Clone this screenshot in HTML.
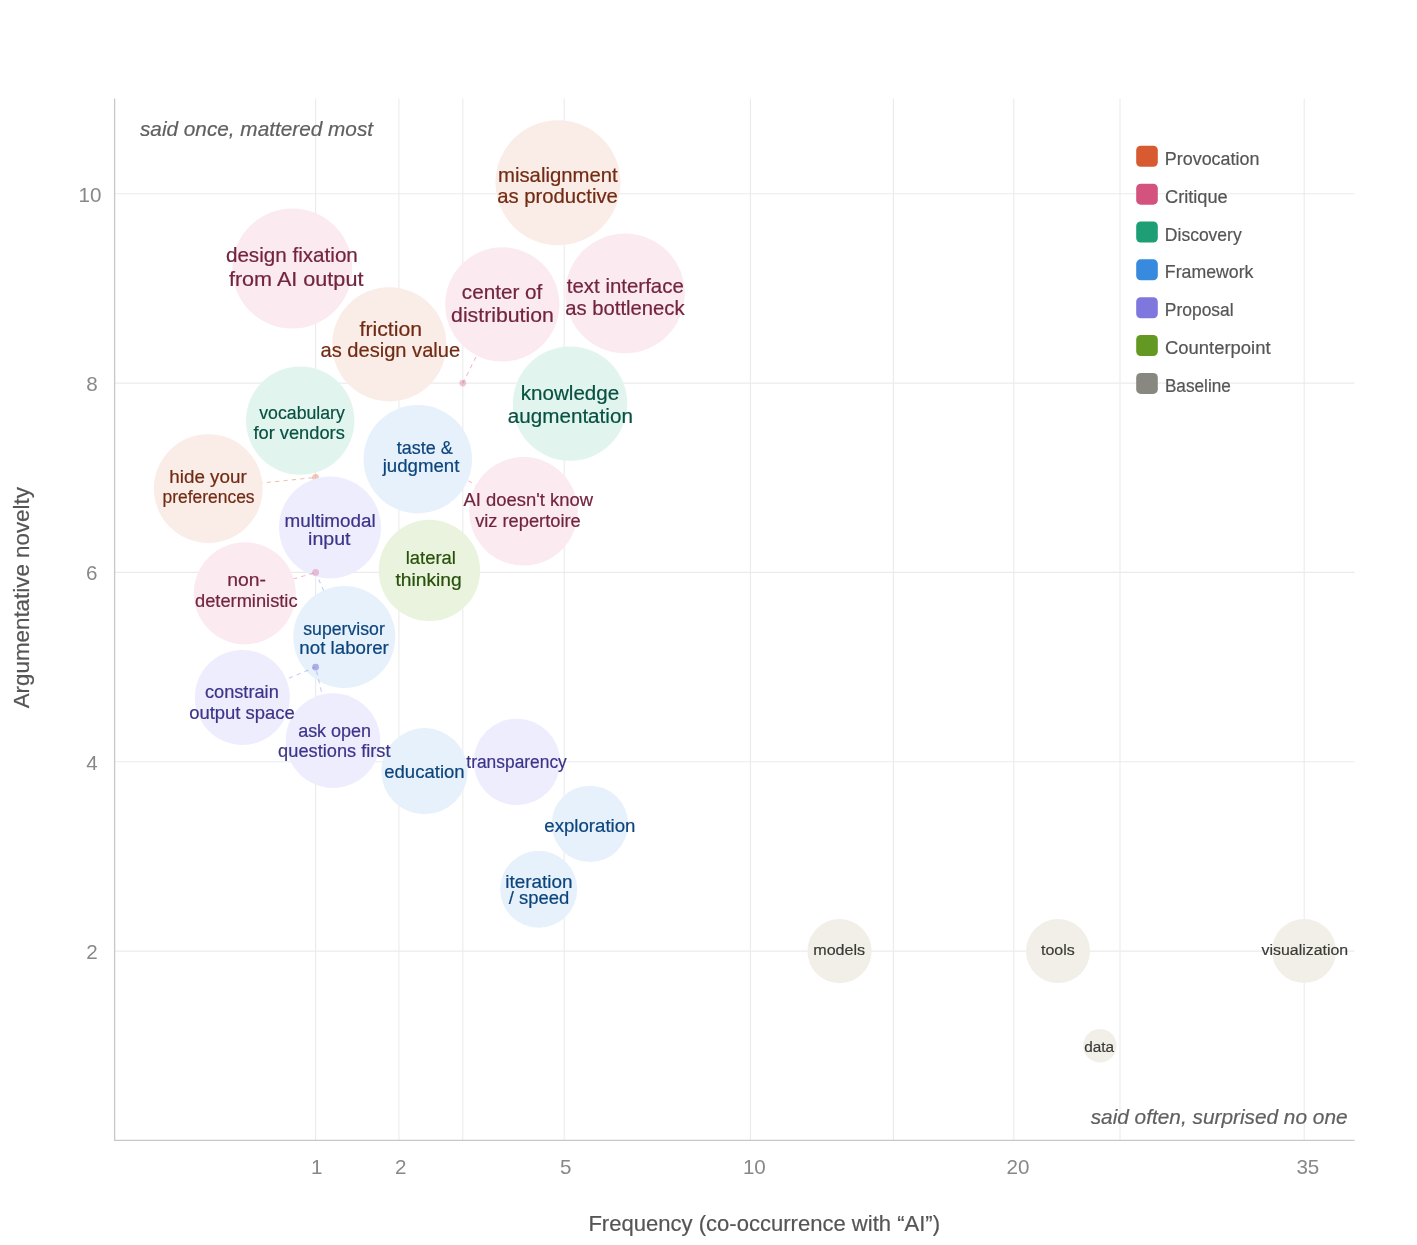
<!DOCTYPE html>
<html><head><meta charset="utf-8"><title>Chart</title>
<style>html,body{margin:0;padding:0;background:#fff;}svg{display:block;will-change:transform;}text{font-family:"Liberation Sans",sans-serif;}</style>
</head><body>
<svg width="1417" height="1245" viewBox="0 0 1417 1245" font-family="Liberation Sans, sans-serif">
<rect width="1417" height="1245" fill="#ffffff"/>
<path d="M315.6 98.5V1140M398.9 98.5V1140M462.8 98.5V1140M564.2 98.5V1140M750.4 98.5V1140M893.4 98.5V1140M1013.8 98.5V1140M1120.0 98.5V1140M1304.2 98.5V1140M114.5 951.1H1354.5M114.5 761.8H1354.5M114.5 572.4H1354.5M114.5 383.1H1354.5M114.5 193.8H1354.5" stroke="#ebebeb" stroke-width="1.1" fill="none"/>
<path d="M114.6 98.5V1140.4H1354.5" stroke="#c8c8c8" stroke-width="1.3" fill="none"/>
<line x1="523.5" y1="511.3" x2="462.8154174021012" y2="477.7800000000001" stroke="#D4537E" stroke-opacity="0.38" stroke-width="1.1" stroke-dasharray="4.2 4.2"/>
<circle cx="462.8154174021012" cy="477.7800000000001" r="3.4" fill="#D4537E" fill-opacity="0.33"/>
<circle cx="523.5" cy="511.3" r="54.3" fill="#FBEAF0"/>
<line x1="344.3" y1="637.0" x2="315.6" y2="572.44" stroke="#378ADD" stroke-opacity="0.38" stroke-width="1.1" stroke-dasharray="4.2 4.2"/>
<circle cx="344.3" cy="637.0" r="51.0" fill="#E6F1FB"/>
<circle cx="558.0" cy="182.7" r="62.5" fill="#FAECE7"/>
<circle cx="292.3" cy="268.5" r="60.0" fill="#FBEAF0"/>
<circle cx="625.0" cy="293.4" r="59.8" fill="#FBEAF0"/>
<line x1="502.3" y1="304.4" x2="462.8154174021012" y2="383.1200000000001" stroke="#D4537E" stroke-opacity="0.38" stroke-width="1.1" stroke-dasharray="4.2 4.2"/>
<circle cx="462.8154174021012" cy="383.1200000000001" r="3.4" fill="#D4537E" fill-opacity="0.33"/>
<circle cx="502.3" cy="304.4" r="57.1" fill="#FBEAF0"/>
<circle cx="389.3" cy="344.3" r="57.1" fill="#FAECE7"/>
<circle cx="570.1" cy="403.6" r="57.2" fill="#E1F5EE"/>
<circle cx="300.2" cy="420.6" r="54.2" fill="#E1F5EE"/>
<circle cx="417.8" cy="459.2" r="54.2" fill="#E6F1FB"/>
<line x1="208.3" y1="488.6" x2="315.6" y2="477.3800000000001" stroke="#D85A30" stroke-opacity="0.38" stroke-width="1.1" stroke-dasharray="4.2 4.2"/>
<circle cx="315.6" cy="477.3800000000001" r="3.4" fill="#D85A30" fill-opacity="0.33"/>
<circle cx="208.3" cy="488.6" r="54.4" fill="#FAECE7"/>
<circle cx="330.0" cy="527.5" r="51.0" fill="#EEEDFE"/>
<circle cx="429.4" cy="570.5" r="50.7" fill="#EAF3DE"/>
<line x1="244.8" y1="593.3" x2="315.6" y2="572.44" stroke="#D4537E" stroke-opacity="0.38" stroke-width="1.1" stroke-dasharray="4.2 4.2"/>
<circle cx="315.6" cy="572.44" r="3.4" fill="#D4537E" fill-opacity="0.33"/>
<circle cx="244.8" cy="593.3" r="51.0" fill="#FBEAF0"/>
<line x1="242.3" y1="697.4" x2="315.6" y2="667.1000000000001" stroke="#7F77DD" stroke-opacity="0.38" stroke-width="1.1" stroke-dasharray="4.2 4.2"/>
<circle cx="315.6" cy="667.1000000000001" r="3.4" fill="#7F77DD" fill-opacity="0.33"/>
<circle cx="242.3" cy="697.4" r="47.5" fill="#EEEDFE"/>
<line x1="333.0" y1="740.6" x2="315.6" y2="667.1000000000001" stroke="#7F77DD" stroke-opacity="0.38" stroke-width="1.1" stroke-dasharray="4.2 4.2"/>
<circle cx="315.6" cy="667.1000000000001" r="3.4" fill="#7F77DD" fill-opacity="0.33"/>
<circle cx="333.0" cy="740.6" r="47.3" fill="#EEEDFE"/>
<circle cx="424.5" cy="771.2" r="43.1" fill="#E6F1FB"/>
<circle cx="516.9" cy="761.9" r="43.2" fill="#EEEDFE"/>
<circle cx="589.9" cy="823.9" r="38.2" fill="#E6F1FB"/>
<circle cx="538.7" cy="889.2" r="38.5" fill="#E6F1FB"/>
<circle cx="839.5" cy="951.1" r="32.1" fill="#F1EFE8"/>
<circle cx="1058.0" cy="951.1" r="32.0" fill="#F1EFE8"/>
<circle cx="1304.0" cy="951.0" r="32.0" fill="#F1EFE8"/>
<circle cx="1099.9" cy="1045.8" r="16.7" fill="#F1EFE8"/>
<text transform="translate(463.55,505.80) scale(1.0353,1)" font-size="17.82" fill="#72243E" stroke="#72243E" stroke-width="0.2">AI doesn't know</text>
<text transform="translate(475.15,526.70) scale(1.0255,1)" font-size="17.82" fill="#72243E" stroke="#72243E" stroke-width="0.2">viz repertoire</text>
<text transform="translate(303.21,634.80) scale(0.9922,1)" font-size="17.82" fill="#0C447C" stroke="#0C447C" stroke-width="0.2">supervisor</text>
<text transform="translate(299.34,653.60) scale(1.0513,1)" font-size="17.82" fill="#0C447C" stroke="#0C447C" stroke-width="0.2">not laborer</text>
<text transform="translate(498.03,181.70) scale(1.0266,1)" font-size="19.80" fill="#712B13" stroke="#712B13" stroke-width="0.2">misalignment</text>
<text transform="translate(497.14,203.40) scale(1.0252,1)" font-size="19.80" fill="#712B13" stroke="#712B13" stroke-width="0.2">as productive</text>
<text transform="translate(225.92,262.30) scale(1.0426,1)" font-size="19.80" fill="#72243E" stroke="#72243E" stroke-width="0.2">design fixation</text>
<text transform="translate(228.88,285.90) scale(1.0919,1)" font-size="19.80" fill="#72243E" stroke="#72243E" stroke-width="0.2">from AI output</text>
<text transform="translate(566.79,293.10) scale(1.0328,1)" font-size="19.80" fill="#72243E" stroke="#72243E" stroke-width="0.2">text interface</text>
<text transform="translate(565.24,315.20) scale(1.0231,1)" font-size="19.80" fill="#72243E" stroke="#72243E" stroke-width="0.2">as bottleneck</text>
<text transform="translate(461.82,299.40) scale(1.0455,1)" font-size="19.80" fill="#72243E" stroke="#72243E" stroke-width="0.2">center of</text>
<text transform="translate(451.10,322.20) scale(1.0731,1)" font-size="19.80" fill="#72243E" stroke="#72243E" stroke-width="0.2">distribution</text>
<text transform="translate(359.48,336.30) scale(1.0726,1)" font-size="19.80" fill="#712B13" stroke="#712B13" stroke-width="0.2">friction</text>
<text transform="translate(320.55,357.20) scale(1.0149,1)" font-size="19.80" fill="#712B13" stroke="#712B13" stroke-width="0.2">as design value</text>
<text transform="translate(520.81,400.20) scale(1.0393,1)" font-size="19.80" fill="#085041" stroke="#085041" stroke-width="0.2">knowledge</text>
<text transform="translate(507.82,422.70) scale(1.0423,1)" font-size="19.80" fill="#085041" stroke="#085041" stroke-width="0.2">augmentation</text>
<text transform="translate(259.26,418.70) scale(0.9934,1)" font-size="17.82" fill="#085041" stroke="#085041" stroke-width="0.2">vocabulary</text>
<text transform="translate(253.43,438.70) scale(1.0266,1)" font-size="17.82" fill="#085041" stroke="#085041" stroke-width="0.2">for vendors</text>
<text transform="translate(396.83,453.60) scale(1.0086,1)" font-size="17.82" fill="#0C447C" stroke="#0C447C" stroke-width="0.2">taste &amp;</text>
<text transform="translate(382.67,472.40) scale(1.0476,1)" font-size="17.82" fill="#0C447C" stroke="#0C447C" stroke-width="0.2">judgment</text>
<text transform="translate(169.28,482.50) scale(1.0575,1)" font-size="17.82" fill="#712B13" stroke="#712B13" stroke-width="0.2">hide your</text>
<text transform="translate(162.47,503.30) scale(0.9793,1)" font-size="17.82" fill="#712B13" stroke="#712B13" stroke-width="0.2">preferences</text>
<text transform="translate(284.53,526.60) scale(1.0591,1)" font-size="17.82" fill="#3C3489" stroke="#3C3489" stroke-width="0.2">multimodal</text>
<text transform="translate(308.08,545.20) scale(1.0995,1)" font-size="17.82" fill="#3C3489" stroke="#3C3489" stroke-width="0.2">input</text>
<text transform="translate(405.76,563.60) scale(1.0335,1)" font-size="17.82" fill="#27500A" stroke="#27500A" stroke-width="0.2">lateral</text>
<text transform="translate(395.41,586.30) scale(1.0798,1)" font-size="17.82" fill="#27500A" stroke="#27500A" stroke-width="0.2">thinking</text>
<text transform="translate(227.29,585.90) scale(1.0867,1)" font-size="17.82" fill="#72243E" stroke="#72243E" stroke-width="0.2">non-</text>
<text transform="translate(195.02,606.60) scale(1.0267,1)" font-size="17.82" fill="#72243E" stroke="#72243E" stroke-width="0.2">deterministic</text>
<text transform="translate(204.93,698.00) scale(1.0222,1)" font-size="17.82" fill="#3C3489" stroke="#3C3489" stroke-width="0.2">constrain</text>
<text transform="translate(189.22,718.70) scale(1.0358,1)" font-size="17.82" fill="#3C3489" stroke="#3C3489" stroke-width="0.2">output space</text>
<text transform="translate(298.14,737.20) scale(1.0095,1)" font-size="17.82" fill="#3C3489" stroke="#3C3489" stroke-width="0.2">ask open</text>
<text transform="translate(278.12,756.50) scale(1.0233,1)" font-size="17.82" fill="#3C3489" stroke="#3C3489" stroke-width="0.2">questions first</text>
<text transform="translate(384.21,777.50) scale(1.0414,1)" font-size="17.82" fill="#0C447C" stroke="#0C447C" stroke-width="0.2">education</text>
<text transform="translate(466.34,768.40) scale(0.9758,1)" font-size="17.82" fill="#3C3489" stroke="#3C3489" stroke-width="0.2">transparency</text>
<text transform="translate(544.31,831.70) scale(1.0461,1)" font-size="17.82" fill="#0C447C" stroke="#0C447C" stroke-width="0.2">exploration</text>
<text transform="translate(505.22,888.30) scale(1.0642,1)" font-size="17.82" fill="#0C447C" stroke="#0C447C" stroke-width="0.2">iteration</text>
<text transform="translate(508.80,904.00) scale(1.0360,1)" font-size="17.82" fill="#0C447C" stroke="#0C447C" stroke-width="0.2">/ speed</text>
<text transform="translate(813.21,955.00) scale(1.0372,1)" font-size="15.54" fill="#3a3a37" stroke="#3a3a37" stroke-width="0.2">models</text>
<text transform="translate(1040.96,955.00) scale(1.0294,1)" font-size="15.54" fill="#3a3a37" stroke="#3a3a37" stroke-width="0.2">tools</text>
<text transform="translate(1261.56,954.90) scale(1.0232,1)" font-size="15.54" fill="#3a3a37" stroke="#3a3a37" stroke-width="0.2">visualization</text>
<text transform="translate(1084.25,1052.30) scale(0.9862,1)" font-size="15.54" fill="#3a3a37" stroke="#3a3a37" stroke-width="0.2">data</text>
<rect x="1136.2" y="145.80" width="21.6" height="21" rx="4.5" fill="#D85A30"/>
<text transform="translate(1164.82,164.90) scale(1.0065,1)" font-size="17.80" fill="#555" stroke="#555" stroke-width="0.2">Provocation</text>
<rect x="1136.2" y="183.65" width="21.6" height="21" rx="4.5" fill="#D4537E"/>
<text transform="translate(1164.99,202.75) scale(1.0239,1)" font-size="17.80" fill="#555" stroke="#555" stroke-width="0.2">Critique</text>
<rect x="1136.2" y="221.50" width="21.6" height="21" rx="4.5" fill="#1D9E75"/>
<text transform="translate(1164.86,240.60) scale(0.9840,1)" font-size="17.80" fill="#555" stroke="#555" stroke-width="0.2">Discovery</text>
<rect x="1136.2" y="259.35" width="21.6" height="21" rx="4.5" fill="#378ADD"/>
<text transform="translate(1164.84,278.45) scale(0.9962,1)" font-size="17.80" fill="#555" stroke="#555" stroke-width="0.2">Framework</text>
<rect x="1136.2" y="297.20" width="21.6" height="21" rx="4.5" fill="#7F77DD"/>
<text transform="translate(1164.86,316.30) scale(0.9794,1)" font-size="17.80" fill="#555" stroke="#555" stroke-width="0.2">Proposal</text>
<rect x="1136.2" y="335.05" width="21.6" height="21" rx="4.5" fill="#639922"/>
<text transform="translate(1164.98,354.15) scale(1.0359,1)" font-size="17.80" fill="#555" stroke="#555" stroke-width="0.2">Counterpoint</text>
<rect x="1136.2" y="372.90" width="21.6" height="21" rx="4.5" fill="#888780"/>
<text transform="translate(1164.88,392.00) scale(0.9661,1)" font-size="17.80" fill="#555" stroke="#555" stroke-width="0.2">Baseline</text>
<text x="311.00" y="1173.70" font-size="20.60" fill="#888">1</text>
<text x="394.98" y="1173.70" font-size="20.60" fill="#888">2</text>
<text x="560.03" y="1173.70" font-size="20.60" fill="#888">5</text>
<text x="742.88" y="1173.70" font-size="20.60" fill="#888">10</text>
<text x="1006.44" y="1173.70" font-size="20.60" fill="#888">20</text>
<text x="1296.39" y="1173.70" font-size="20.60" fill="#888">35</text>
<text x="86.18" y="958.88" font-size="20.60" fill="#888">2</text>
<text x="86.13" y="769.56" font-size="20.60" fill="#888">4</text>
<text x="85.96" y="580.24" font-size="20.60" fill="#888">6</text>
<text x="86.13" y="390.92" font-size="20.60" fill="#888">8</text>
<text x="78.48" y="201.60" font-size="20.60" fill="#888">10</text>
<text transform="translate(588.38,1231.40) scale(1.0402,1)" font-size="21.20" fill="#555" stroke="#555" stroke-width="0.2">Frequency (co-occurrence with “AI”)</text>
<g transform="translate(29.2,0) rotate(-90)"><text transform="translate(-708.36,0.00) scale(1.0264,1)" font-size="21.80" fill="#555" stroke="#555" stroke-width="0.2">Argumentative novelty</text></g>
<text transform="translate(139.95,135.50) scale(1.0391,1)" font-size="20.00" fill="#606060" stroke="#606060" stroke-width="0.2" font-style="italic">said once, mattered most</text>
<text transform="translate(1090.65,1123.70) scale(1.0413,1)" font-size="20.00" fill="#606060" stroke="#606060" stroke-width="0.2" font-style="italic">said often, surprised no one</text>
</svg>
</body></html>
